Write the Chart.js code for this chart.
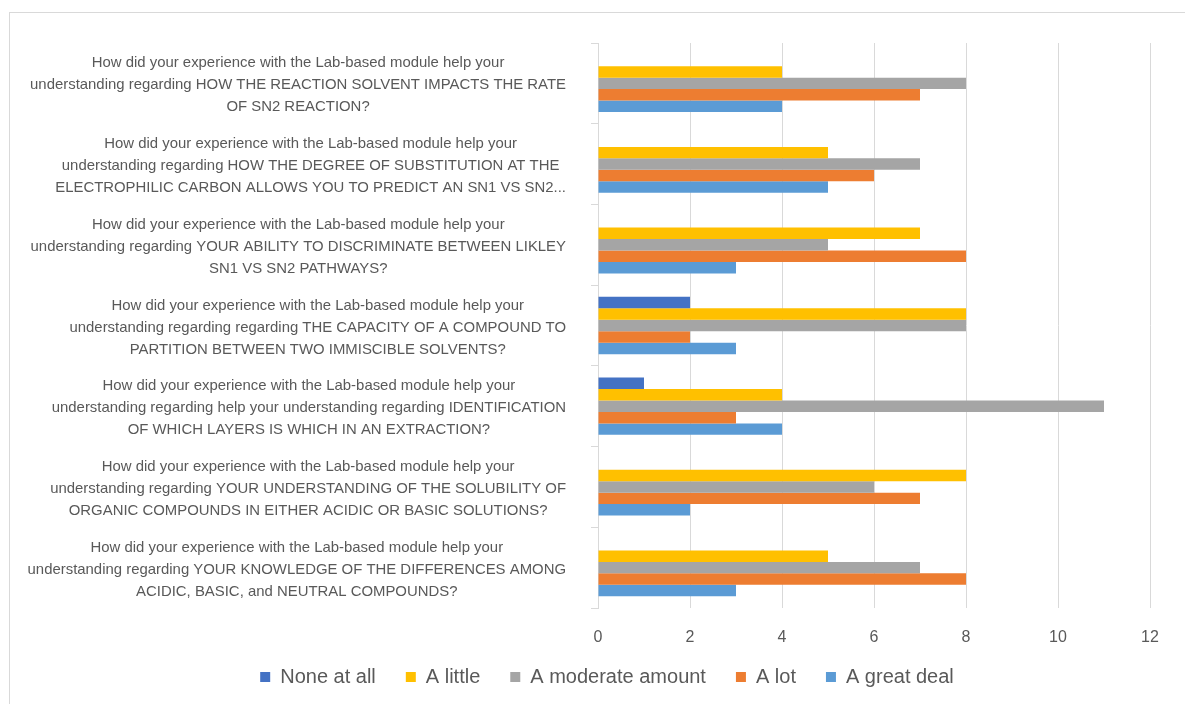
<!DOCTYPE html>
<html>
<head>
<meta charset="utf-8">
<script src="https://cdn.jsdelivr.net/npm/chart.js@4.4.1/dist/chart.umd.min.js"></script>
<style>
  html, body { margin: 0; padding: 0; background: #fff; overflow: hidden; }
  .frame { position: absolute; left: 9px; top: 12px; width: 1200px; height: 720px; border: 1px solid #d9d9d9; }
  .wrap { position: absolute; left: 0; top: 0; width: 1185px; height: 704px; }
</style>
</head>
<body>
<div class="frame"></div>
<div class="wrap"><canvas id="chart"></canvas></div>
<script>
  // question labels, one array of lines per category
  const questions = [
    ['How did your experience with the Lab-based module help your',
     'understanding regarding HOW THE REACTION SOLVENT IMPACTS THE RATE',
     'OF SN2 REACTION?'],
    ['How did your experience with the Lab-based module help your',
     'understanding regarding HOW THE DEGREE OF SUBSTITUTION AT THE',
     'ELECTROPHILIC CARBON ALLOWS YOU TO PREDICT AN SN1 VS SN2...'],
    ['How did your experience with the Lab-based module help your',
     'understanding regarding YOUR ABILITY TO DISCRIMINATE BETWEEN LIKLEY',
     'SN1 VS SN2 PATHWAYS?'],
    ['How did your experience with the Lab-based module help your',
     'understanding regarding regarding THE CAPACITY OF A COMPOUND TO',
     'PARTITION BETWEEN TWO IMMISCIBLE SOLVENTS?'],
    ['How did your experience with the Lab-based module help your',
     'understanding regarding help your understanding regarding IDENTIFICATION',
     'OF WHICH LAYERS IS WHICH IN AN EXTRACTION?'],
    ['How did your experience with the Lab-based module help your',
     'understanding regarding YOUR UNDERSTANDING OF THE SOLUBILITY OF',
     'ORGANIC COMPOUNDS IN EITHER ACIDIC OR BASIC SOLUTIONS?'],
    ['How did your experience with the Lab-based module help your',
     'understanding regarding YOUR KNOWLEDGE OF THE DIFFERENCES AMONG',
     'ACIDIC, BASIC, and NEUTRAL COMPOUNDS?']
  ];

  const noneAtAll = [0, 0, 0, 2, 1, 0, 0];
  const aLittle = [4, 5, 7, 8, 4, 8, 5];
  const aModerate = [8, 7, 5, 8, 11, 6, 7];
  const aLot = [7, 6, 8, 2, 3, 7, 8];
  const aGreatDeal = [4, 5, 3, 3, 4, 2, 3];

  const xTicks = [0, 2, 4, 6, 8, 10, 12];

  const TEXT = '#595959';
  const GRID = '#d9d9d9';
  const FONT = "'Liberation Sans', Arial, sans-serif";
  const PAD_LEFT = 64;
  const LEGEND_H = 50;
  const LEGEND_TOP = 637;

  // draws the multi-line question labels: lines centred, block right-aligned
  const questionLabels = {
    id: 'questionLabels',
    afterDraw(chart) {
      const { ctx, scales: { y } } = chart;
      ctx.save();
      ctx.font = '14px ' + FONT;
      const ref = ctx.measureText(questions[0][1]).width;
      const size = 14 * 536 / ref;
      ctx.font = size.toFixed(2) + 'px ' + FONT;
      ctx.fillStyle = TEXT;
      ctx.textAlign = 'center';
      ctx.textBaseline = 'middle';
      const right = 566;
      const lineH = 22;
      questions.forEach((lines, i) => {
        const cy = y.getPixelForValue(i) + 2;
        const w = Math.max(...lines.map(l => ctx.measureText(l).width));
        const cx = right - w / 2;
        lines.forEach((l, j) => {
          ctx.fillText(l, cx, cy + (j - (lines.length - 1) / 2) * lineH);
        });
      });
      ctx.restore();
    }
  };

  // keep the legend compact and pin it under the axis labels
  const legendPlace = {
    id: 'legendPlace',
    beforeLayout(chart) {
      const lg = chart.legend;
      if (lg && !lg._pinned) {
        const fit = lg.fit.bind(lg);
        lg.fit = function () { fit(); this.height = LEGEND_H; };
        lg._pinned = true;
      }
    },
    afterLayout(chart) {
      const lg = chart.legend;
      if (!lg) return;
      const dy = LEGEND_TOP - lg.top;
      lg.top += dy;
      lg.bottom += dy;
    }
  };

  const ctx = document.getElementById('chart').getContext('2d');
  new Chart(ctx, {
    type: 'bar',
    data: {
      labels: questions.map(q => q.join(' ')),
      datasets: [
        { label: 'None at all', data: noneAtAll, backgroundColor: '#4472C4' },
        { label: 'A little', data: aLittle, backgroundColor: '#FFC000' },
        { label: 'A moderate amount', data: aModerate, backgroundColor: '#A5A5A5' },
        { label: 'A lot', data: aLot, backgroundColor: '#ED7D31' },
        { label: 'A great deal', data: aGreatDeal, backgroundColor: '#5B9BD5' }
      ]
    },
    options: {
      indexAxis: 'y',
      responsive: true,
      maintainAspectRatio: false,
      animation: false,
      datasets: { bar: { categoryPercentage: 0.71, barPercentage: 1 } },
      layout: { padding: { left: PAD_LEFT, right: 35, top: 43, bottom: 6 } },
      scales: {
        x: {
          min: 0,
          max: 12,
          afterBuildTicks: scale => { scale.ticks = xTicks.map(v => ({ value: v })); },
          grid: { color: GRID, drawTicks: false },
          border: { display: false },
          ticks: { color: TEXT, font: { family: FONT, size: 16 }, padding: 20 },
          afterFit: scale => { scale.height = 40; }
        },
        y: {
          offset: true,
          grid: { color: GRID, drawOnChartArea: false, tickLength: 7 },
          border: { display: true, color: GRID },
          ticks: { display: false },
          afterFit: scale => { scale.width = 598 - PAD_LEFT; }
        }
      },
      plugins: {
        legend: {
          position: 'bottom',
          labels: {
            color: TEXT,
            font: { family: FONT, size: 20 },
            boxWidth: 10,
            boxHeight: 10,
            padding: 30
          }
        },
        tooltip: { enabled: false }
      }
    },
    plugins: [questionLabels, legendPlace]
  });
</script>
</body>
</html>
